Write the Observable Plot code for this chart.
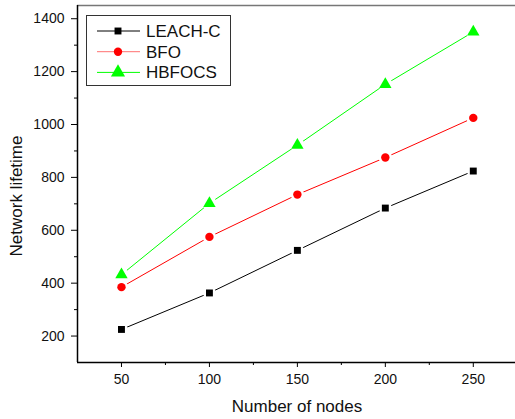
<!DOCTYPE html>
<html>
<head>
<meta charset="utf-8">
<script src="https://cdn.jsdelivr.net/npm/d3@7"></script>
<script src="https://cdn.jsdelivr.net/npm/@observablehq/plot@0.6"></script>
<style>
  body { margin: 0; background: #fff; }
  #wrap { position: relative; width: 515px; height: 419px; font-family: "Liberation Sans", Arial, sans-serif; }
  #legend { position: absolute; left: 0; top: 0; }
</style>
</head>
<body>
<div id="wrap"></div>
<script>
const nodes = [50, 100, 150, 200, 250];
const leachC = [225, 363, 524, 684, 824];
const bfo = [385, 575, 735, 875, 1025];
const hbfocs = [432, 702, 922, 1152, 1350];
const seriesNames = ["LEACH-C", "BFO", "HBFOCS"];
const seriesColors = ["#000000", "#ff0000", "#00ff00"];
const seriesSymbols = ["square", "circle", "triangle"];
const seriesR = [3.9, 4.2, 4.6];
const xTicks = [50, 100, 150, 200, 250];
const xMinor = [75, 125, 175, 225];
const yTicks = [200, 400, 600, 800, 1000, 1200, 1400];
const yMinor = [300, 500, 700, 900, 1100, 1300];

const seriesVals = [leachC, bfo, hbfocs];
const data = [];
seriesNames.forEach((s, i) => nodes.forEach((n, j) => data.push({series: s, n, v: seriesVals[i][j]})));

const xDomain = [25, 274];
const yDomain = [100, 1450];
const font = "Liberation Sans, Arial, sans-serif";
const fmt = d => String(d);

const marks = [
  Plot.ruleY([yDomain[1]], {stroke: "#777", strokeWidth: 1.5}),
  Plot.axisX({ticks: xMinor, tickSize: 3, text: null, stroke: "#000"}),
  Plot.axisY({ticks: yMinor, tickSize: 3, text: null, stroke: "#000"}),
  Plot.axisX({ticks: xTicks, tickSize: 5, tickPadding: 7, tickFormat: fmt, fontSize: 14, fill: "#111", label: null, stroke: "#000"}),
  Plot.axisY({ticks: yTicks, tickSize: 6, tickPadding: 7, tickFormat: fmt, fontSize: 14, fill: "#111", label: null, stroke: "#000"}),
  Plot.ruleX([xDomain[0]], {stroke: "#000", strokeWidth: 1.5}),
  Plot.ruleY([yDomain[0]], {stroke: "#000", strokeWidth: 1.5}),
];
seriesNames.forEach((s, i) => {
  const d = data.filter(r => r.series === s);
  marks.push(Plot.line(d, {x: "n", y: "v", stroke: seriesColors[i], strokeWidth: 1}));
  marks.push(Plot.dot(d, {x: "n", y: "v", r: seriesR[i] + 2.5, fill: "#fff", stroke: "none", symbol: "circle"}));
  marks.push(Plot.dot(d, {x: "n", y: "v", r: seriesR[i], fill: seriesColors[i], stroke: "none", symbol: seriesSymbols[i]}));
});

const chart = Plot.plot({
  width: 515,
  height: 419,
  marginLeft: 77,
  marginRight: 0,
  marginTop: 5,
  marginBottom: 57,
  style: {fontFamily: font, background: "#fff", overflow: "visible"},
  x: {domain: xDomain, label: null},
  y: {domain: yDomain, label: null},
  marks
});

const wrap = document.getElementById("wrap");
wrap.appendChild(chart);

// axis titles as text
const svg = d3.select(chart);
svg.append("text").attr("x", 297).attr("y", 412).attr("text-anchor", "middle")
  .attr("font-size", 17).attr("fill", "#111").attr("font-family", font).text("Number of nodes");
svg.append("text").attr("transform", "translate(22,196) rotate(-90)").attr("text-anchor", "middle")
  .attr("font-size", 17).attr("fill", "#111").attr("font-family", font).text("Network lifetime");

// legend overlay
const leg = d3.select(wrap).append("svg").attr("id", "legend").attr("width", 515).attr("height", 419);
leg.append("rect").attr("x", 86.5).attr("y", 15.5).attr("width", 144).attr("height", 70)
  .attr("fill", "#fff").attr("stroke", "#333").attr("stroke-width", 1);
const symGen = {square: d3.symbolSquare, circle: d3.symbolCircle, triangle: d3.symbolTriangle};
seriesNames.forEach((s, i) => {
  const cy = 31 + i * 20.7;
  leg.append("line").attr("x1", 97).attr("x2", 140).attr("y1", cy).attr("y2", cy)
    .attr("stroke", i === 1 ? "#ff7070" : seriesColors[i]).attr("stroke-width", 1);
  const size = Math.PI * seriesR[i] * seriesR[i] * (i === 2 ? 1.3 : 1);
  leg.append("path").attr("transform", `translate(118,${cy})`)
    .attr("d", d3.symbol(symGen[seriesSymbols[i]], size)()).attr("fill", seriesColors[i]);
  leg.append("text").attr("x", 146).attr("y", cy).attr("dy", "0.35em").attr("font-size", 17)
    .attr("fill", "#111").attr("font-family", font).text(s);
});
</script>
</body>
</html>
